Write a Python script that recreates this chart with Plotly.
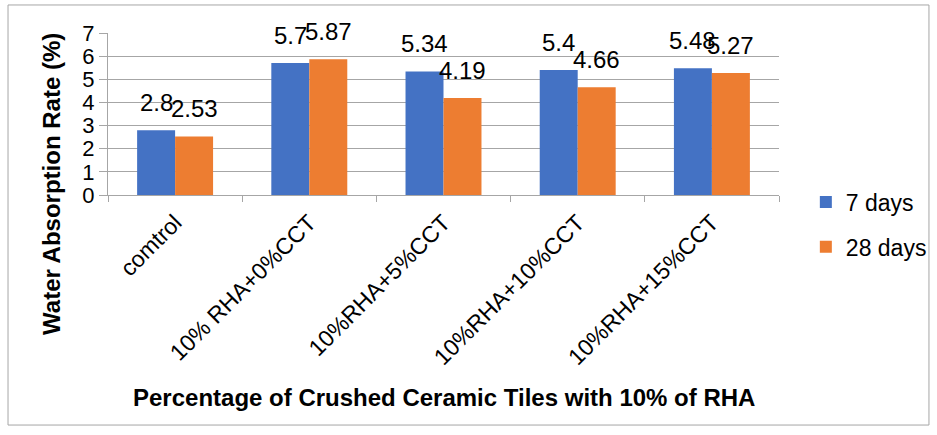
import plotly.graph_objects as go

categories = ["comtrol", "10% RHA+0%CCT", "10%RHA+5%CCT", "10%RHA+10%CCT", "10%RHA+15%CCT"]
days7 = [2.8, 5.7, 5.34, 5.4, 5.48]
days28 = [2.53, 5.87, 4.19, 4.66, 5.27]
series_names = ["7 days", "28 days"]
colors = ["#4472C4", "#ED7D31"]
y_ticks = [0, 1, 2, 3, 4, 5, 6, 7]
x_title = "Percentage of Crushed Ceramic Tiles with 10% of RHA"
y_title = "Water Absorption Rate (%)"

FONT = "Liberation Sans, Arial, sans-serif"
GRAY = "#A6A6A6"

fig = go.Figure()
for i, (name, vals) in enumerate(zip(series_names, [days7, days28])):
    fig.add_trace(go.Bar(
        x=categories, y=vals, name=name, marker=dict(color=colors[i], line=dict(width=0)),
        legendgroup=name, hoverinfo="skip",
    ))

# data labels
annotations = []
for shift, vals in zip([-19, 19], [days7, days28]):
    for c, v in zip(categories, vals):
        annotations.append(dict(
            x=c, y=v, xref="x", yref="y", text=f"{v:g}", showarrow=False,
            xshift=shift, yshift=12, yanchor="bottom", xanchor="center",
            font=dict(family=FONT, size=24, color="#000000"),
        ))

# axis titles as free text (positioned like the original)
annotations.append(dict(
    x=0.5, y=-1.253, xref="paper", yref="paper", text="<b>" + x_title + "</b>",
    showarrow=False, xanchor="center", yanchor="middle",
    font=dict(family=FONT, size=24, color="#000000"),
))
annotations.append(dict(
    x=-0.0835, y=0.068, xref="paper", yref="paper", text="<b>" + y_title + "</b>",
    showarrow=False, xanchor="center", yanchor="middle", textangle=-90,
    font=dict(family=FONT, size=24, color="#000000"),
))

fig.update_layout(
    width=937, height=435,
    margin=dict(l=108, r=158, t=33, b=240, autoexpand=False),
    paper_bgcolor="white", plot_bgcolor="white",
    barmode="group", bargap=0.434, bargroupgap=0,
    font=dict(family=FONT, color="#000000"),
    showlegend=True,
    legend=dict(x=1.04, y=-0.182, xanchor="left", yanchor="middle",
                font=dict(family=FONT, size=23, color="#000000"),
                tracegroupgap=12, itemwidth=30, bgcolor="rgba(0,0,0,0)"),
    annotations=annotations,
    shapes=[dict(type="rect", xref="paper", yref="paper",
                 x0=-0.149, x1=1.2235, y0=-1.42, y1=1.173,
                 line=dict(color=GRAY, width=1), fillcolor="rgba(0,0,0,0)", layer="below")],
)

fig.update_xaxes(
    type="category", tickangle=-45, tickson="boundaries", ticks="outside", ticklen=6,
    tickcolor=GRAY, showline=True, linecolor=GRAY, linewidth=1,
    tickfont=dict(family=FONT, size=23, color="#000000"), ticklabelstandoff=4,
    showgrid=False,
)
fig.update_yaxes(
    range=[0, 7], tickvals=y_ticks, ticks="outside", ticklen=8, tickcolor=GRAY,
    showline=True, linecolor=GRAY, linewidth=1,
    showgrid=True, gridcolor=GRAY, gridwidth=1, zeroline=False,
    tickfont=dict(family=FONT, size=22, color="#000000"),
)

fig.write_html("out.html", config={"displayModeBar": False})

# remove the default page margin so the figure sits at the window origin
with open("out.html", "r", encoding="utf-8") as f:
    html = f.read()
html = html.replace("<body>", '<body style="margin:0;">', 1)
with open("out.html", "w", encoding="utf-8") as f:
    f.write(html)
